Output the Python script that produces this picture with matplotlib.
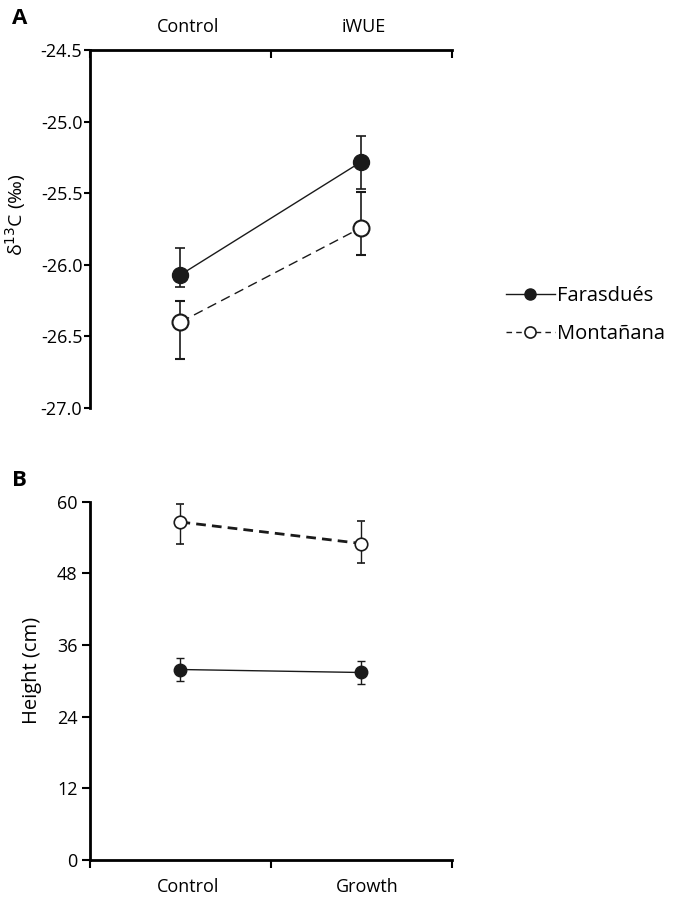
import matplotlib
matplotlib.use("Agg")
import matplotlib.pyplot as plt
from matplotlib.lines import Line2D

plt.rcParams['font.family'] = ['Open Sans', 'DejaVu Sans']

# panel A: delta 13C
cats_a = ["Control", "iWUE"]
far_d13c = [-26.07, -25.28]
far_d13c_lo = [0.085, 0.19]
far_d13c_hi = [0.19, 0.18]
mon_d13c = [-26.40, -25.74]
mon_d13c_lo = [0.26, 0.19]
mon_d13c_hi = [0.15, 0.25]
yticks_a = [-24.5, -25.0, -25.5, -26.0, -26.5, -27.0]

# panel B: height
cats_b = ["Control", "Growth"]
far_h = [31.9, 31.4]
far_h_err = [2.0, 2.0]
mon_h = [56.6, 53.0]
mon_h_lo = [3.6, 3.2]
mon_h_hi = [3.1, 3.7]
yticks_b = [0, 12, 24, 36, 48, 60]

ink = "#1a1a1a"
xpos = [0.5, 1.5]

fig = plt.figure(figsize=(6.75, 8.99), dpi=100)
axa = fig.add_axes([0.1333, 0.5462, 0.5363, 0.3982])
axb = fig.add_axes([0.1333, 0.0434, 0.5363, 0.3985])

# ---- panel A
axa.errorbar(xpos, far_d13c, yerr=[far_d13c_lo, far_d13c_hi], color=ink, lw=1,
             marker='o', ms=11.5, mfc=ink, mec=ink, capsize=3.3, elinewidth=1.2,
             capthick=1.2, zorder=3)
axa.errorbar(xpos, mon_d13c, yerr=[mon_d13c_lo, mon_d13c_hi], color=ink, lw=1,
             ls=(0, (7, 4)), marker='o', ms=11.5, mfc='white', mec=ink, mew=1.5,
             capsize=3.3, elinewidth=1.2, capthick=1.2, zorder=3)
axa.set_xlim(0, 2)
axa.set_ylim(-27.0, -24.5)
axa.set_yticks(yticks_a)
axa.set_yticklabels([f"{v:.1f}" for v in yticks_a])
axa.spines['bottom'].set_visible(False)
axa.spines['right'].set_visible(False)
axa.spines['top'].set_linewidth(2)
axa.spines['left'].set_linewidth(2)
axa.xaxis.tick_top()
axa.set_xticks([0, 1, 2])
axa.set_xticklabels([])
axa.tick_params(axis='x', direction='in', length=6, width=1.5)
axa.tick_params(axis='y', direction='out', length=4, width=1.5, labelsize=13, pad=1.5)
for x, lab in zip([0.54, 1.51], cats_a):
    axa.text(x, 1.065, lab, transform=axa.get_xaxis_transform(), ha='center',
             va='center', fontsize=13)
axa.set_ylabel("δ$^{13}$C (‰)", fontsize=14)
axa.yaxis.set_label_coords(-0.171, 0.54)

# ---- panel B
axb.errorbar(xpos, far_h, yerr=far_h_err, color=ink, lw=1, marker='o', ms=9,
             mfc=ink, mec=ink, capsize=3, elinewidth=1, capthick=1, zorder=3)
axb.errorbar(xpos, mon_h, yerr=[mon_h_lo, mon_h_hi], color=ink, lw=2,
             ls=(0, (3.5, 2.2)), marker='o', ms=9, mfc='white', mec=ink, mew=1.2,
             capsize=3, elinewidth=1, capthick=1, zorder=3)
axb.set_xlim(0, 2)
axb.set_ylim(0, 60)
axb.set_yticks(yticks_b)
axb.spines['top'].set_visible(False)
axb.spines['right'].set_visible(False)
axb.spines['bottom'].set_linewidth(2)
axb.spines['left'].set_linewidth(2)
axb.set_xticks([0, 1, 2])
axb.set_xticklabels([])
axb.tick_params(axis='x', direction='out', length=6, width=1.5)
axb.tick_params(axis='y', direction='out', length=6, width=1.5, labelsize=13, pad=3)
for x, lab in zip([0.54, 1.53], cats_b):
    axb.text(x, -0.075, lab, transform=axb.get_xaxis_transform(), ha='center',
             va='center', fontsize=13)
axb.set_ylabel("Height (cm)", fontsize=14.5)
axb.yaxis.set_label_coords(-0.133, 0.528)

# legend
handles = [
    Line2D([], [], color=ink, lw=1, marker='o', ms=8, mfc=ink, mec=ink),
    Line2D([], [], color=ink, lw=1, ls=(0, (4, 3)), marker='o', ms=8,
           mfc='white', mec=ink, mew=1.2),
]
fig.legend(handles, ["Farasdués", "Montañana"], loc='center left',
           bbox_to_anchor=(0.735, 0.650), frameon=False, fontsize=14.5,
           handlelength=2.4, handletextpad=0.1, labelspacing=0.9, borderpad=0)

for txt, px, py in [("A", 20, 18), ("B", 19, 480)]:
    fig.text(px / 675, 1 - py / 899, txt, fontsize=16, fontweight='bold',
             ha='center', va='center')

fig.savefig("out.png", dpi=100)
